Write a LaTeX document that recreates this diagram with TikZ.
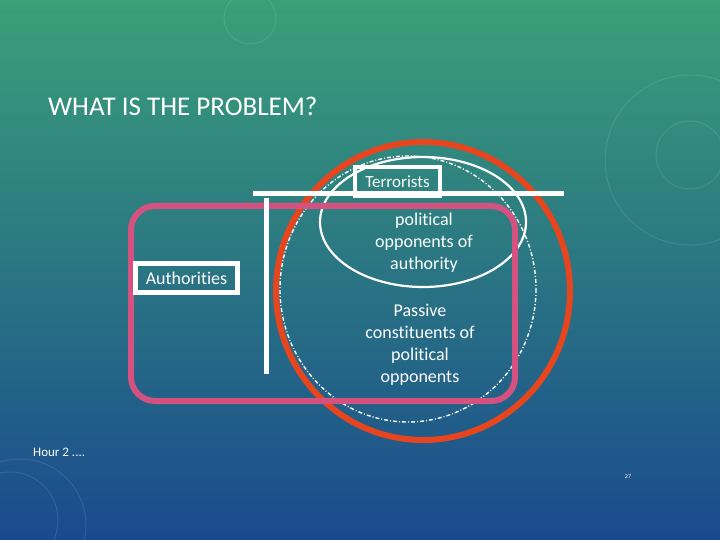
\documentclass[tikz,border=0pt]{standalone}
\usepackage{fontspec}
\setmainfont{Carlito}[Ligatures=NoCommon]
\usetikzlibrary{shapes.geometric}
\definecolor{bgtop}{HTML}{3AA078}
\definecolor{bgmid}{HTML}{23718E}
\definecolor{bgbot}{HTML}{1A4A8E}
\definecolor{redc}{HTML}{E6451D}
\definecolor{pinkc}{HTML}{D4527F}
\tikzset{
  lbl/.style={text=white, font=\fontsize{18}{22}\selectfont, align=center, inner sep=0pt},
  boxlbl/.style={draw=white, text=white, font=\fontsize{17}{18}\selectfont, inner sep=0pt},
  deco/.style={draw=white, opacity=0.1, line width=1pt},
}
\begin{document}
\begin{tikzpicture}[x=1pt,y=-1pt]
\useasboundingbox (0,0) rectangle (720,540);
\shade[top color=bgtop, middle color=bgmid, bottom color=bgbot] (0,0) rectangle (720,540);
% faint background decoration
\draw[deco] (250,18) circle (26);
\draw[deco] (690,155) circle (34);
\draw[deco] (690,160) circle (85);
\draw[deco] (10,520) circle (48);
\draw[deco] (20,525) circle (66);
% title
\node[text=white, anchor=west, font=\fontsize{27}{29}\selectfont, inner sep=0pt] (title) at (48,106) {WHAT IS THE PROBLEM?};
% shapes
\draw[redc, line width=6pt] (423,291) ellipse [x radius=147, y radius=149];
\draw[white, line width=1.4pt, dash pattern=on 4pt off 2pt on 1pt off 2pt] (408,289) ellipse [x radius=128, y radius=133];
\draw[white, line width=2.2pt] (423,222) ellipse [x radius=103, y radius=65];
\draw[pinkc, line width=6pt, rounded corners=24pt] (131,206) rectangle (515,401);
\draw[white, line width=5pt] (253,194) -- (564,194);
\draw[white, line width=5pt] (266,198) -- (266,374);
% labels
\node[boxlbl, line width=4pt, minimum width=85pt, minimum height=29pt] (terr) at (397.5,181.5) {Terrorists};
\node[boxlbl, line width=5pt, minimum width=102pt, minimum height=29pt, font=\fontsize{18}{18}\selectfont] (auth) at (186.5,278) {Authorities};
\node[lbl] (polop) at (424,243) {political\\opponents of\\authority};
\node[lbl] (passive) at (420,345) {Passive\\constituents of\\political\\opponents};
\node[text=white, anchor=west, font=\fontsize{13}{14}\selectfont, inner sep=0pt] (hour) at (33,452) {Hour 2 ....};
\node[text=white, font=\fontsize{6}{6}\selectfont, inner sep=0pt] (page) at (628,477) {27};
\end{tikzpicture}
\end{document}
